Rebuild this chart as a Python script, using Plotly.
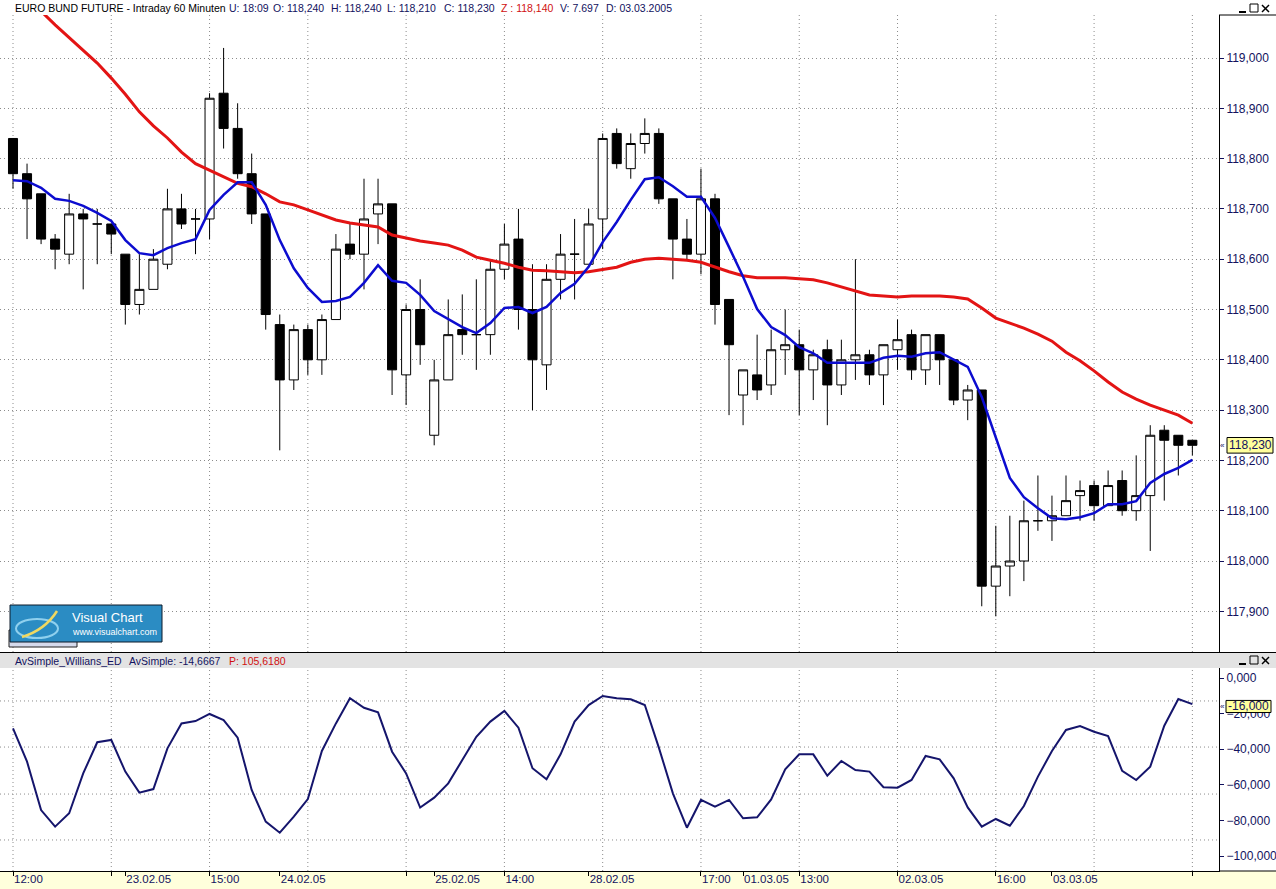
import plotly.graph_objects as go

# ---------------- data ----------------
bar_index = list(range(85))

open_ = [118.84, 118.77, 118.73, 118.64, 118.61, 118.69, 118.67, 118.67, 118.61, 118.51,
         118.54, 118.59, 118.70, 118.68, 118.68, 118.93, 118.86, 118.77, 118.69, 118.47,
         118.36, 118.46, 118.40, 118.48, 118.63, 118.61, 118.69, 118.71, 118.37, 118.50,
         118.25, 118.36, 118.46, 118.45, 118.45, 118.58, 118.64, 118.50, 118.39, 118.56,
         118.61, 118.59, 118.68, 118.85, 118.78, 118.83, 118.85, 118.72, 118.64, 118.61,
         118.72, 118.52, 118.33, 118.37, 118.35, 118.42, 118.43, 118.38, 118.42, 118.35,
         118.40, 118.41, 118.37, 118.42, 118.45, 118.38, 118.45, 118.40, 118.32, 118.34,
         117.95, 117.99, 118.00, 118.08, 118.08, 118.09, 118.13, 118.15, 118.11, 118.16,
         118.10, 118.13, 118.26, 118.25, 118.24]
high = [118.84, 118.79, 118.73, 118.65, 118.73, 118.70, 118.70, 118.67, 118.61, 118.61,
        118.62, 118.74, 118.73, 118.70, 118.93, 119.02, 118.91, 118.81, 118.69, 118.49,
        118.47, 118.47, 118.49, 118.65, 118.67, 118.76, 118.76, 118.71, 118.51, 118.56,
        118.40, 118.52, 118.53, 118.56, 118.60, 118.67, 118.70, 118.59, 118.59, 118.65,
        118.68, 118.70, 118.85, 118.86, 118.85, 118.88, 118.86, 118.72, 118.68, 118.78,
        118.73, 118.52, 118.38, 118.45, 118.46, 118.50, 118.46, 118.42, 118.44, 118.44,
        118.60, 118.42, 118.43, 118.48, 118.46, 118.45, 118.45, 118.40, 118.35, 118.34,
        118.07, 118.09, 118.12, 118.17, 118.13, 118.17, 118.16, 118.16, 118.18, 118.18,
        118.21, 118.27, 118.27, 118.25, 118.24]
low = [118.74, 118.64, 118.63, 118.58, 118.59, 118.54, 118.59, 118.61, 118.47, 118.49,
       118.54, 118.58, 118.66, 118.61, 118.64, 118.82, 118.76, 118.67, 118.46, 118.22,
       118.34, 118.37, 118.37, 118.48, 118.60, 118.54, 118.63, 118.33, 118.31, 118.39,
       118.23, 118.36, 118.41, 118.38, 118.41, 118.56, 118.46, 118.30, 118.34, 118.52,
       118.52, 118.59, 118.62, 118.78, 118.76, 118.81, 118.71, 118.56, 118.60, 118.57,
       118.47, 118.29, 118.27, 118.32, 118.33, 118.37, 118.29, 118.32, 118.27, 118.33,
       118.36, 118.35, 118.31, 118.38, 118.36, 118.35, 118.35, 118.31, 118.28, 117.91,
       117.89, 117.93, 117.96, 118.06, 118.04, 118.09, 118.08, 118.08, 118.11, 118.09,
       118.08, 118.02, 118.12, 118.17, 118.21]
close = [118.77, 118.72, 118.64, 118.62, 118.69, 118.68, 118.67, 118.65, 118.51, 118.54,
         118.60, 118.70, 118.67, 118.68, 118.92, 118.86, 118.77, 118.69, 118.49, 118.36,
         118.46, 118.40, 118.48, 118.62, 118.61, 118.68, 118.71, 118.38, 118.50, 118.43,
         118.36, 118.45, 118.45, 118.45, 118.58, 118.63, 118.50, 118.40, 118.56, 118.61,
         118.61, 118.67, 118.84, 118.79, 118.83, 118.85, 118.72, 118.64, 118.61, 118.72,
         118.51, 118.43, 118.38, 118.34, 118.42, 118.43, 118.38, 118.41, 118.35, 118.40,
         118.41, 118.37, 118.43, 118.44, 118.38, 118.45, 118.40, 118.32, 118.34, 117.95,
         117.99, 118.00, 118.08, 118.08, 118.09, 118.12, 118.14, 118.11, 118.15, 118.10,
         118.13, 118.25, 118.24, 118.23, 118.23]

ma_short = [118.757, 118.755, 118.742, 118.720, 118.716, 118.706, 118.692, 118.676, 118.638, 118.612,
            118.608, 118.622, 118.632, 118.640, 118.698, 118.728, 118.753, 118.753, 118.708, 118.638,
            118.582, 118.543, 118.515, 118.517, 118.525, 118.553, 118.588, 118.557, 118.553, 118.529,
            118.497, 118.481, 118.465, 118.453, 118.473, 118.503, 118.505, 118.493, 118.505, 118.533,
            118.551, 118.585, 118.634, 118.674, 118.718, 118.759, 118.763, 118.745, 118.724, 118.724,
            118.682, 118.624, 118.565, 118.501, 118.465, 118.449, 118.425, 118.413, 118.394, 118.394,
            118.394, 118.394, 118.404, 118.408, 118.406, 118.413, 118.415, 118.400, 118.386, 118.326,
            118.247, 118.165, 118.127, 118.105, 118.085, 118.083, 118.087, 118.095, 118.113, 118.113,
            118.119, 118.155, 118.173, 118.185, 118.201]

ma_long = [119.145, 119.120, 119.093, 119.066, 119.040, 119.014, 118.990, 118.960, 118.928, 118.893,
           118.865, 118.841, 118.813, 118.790, 118.777, 118.763, 118.751, 118.744, 118.730, 118.714,
           118.708, 118.698, 118.688, 118.678, 118.672, 118.668, 118.664, 118.648, 118.642, 118.636,
           118.632, 118.628, 118.618, 118.604, 118.598, 118.592, 118.584, 118.578, 118.577, 118.575,
           118.573, 118.575, 118.579, 118.584, 118.594, 118.600, 118.602, 118.600, 118.598, 118.594,
           118.584, 118.575, 118.567, 118.563, 118.563, 118.563, 118.561, 118.559, 118.553, 118.545,
           118.537, 118.529, 118.527, 118.525, 118.527, 118.527, 118.527, 118.525, 118.521, 118.503,
           118.483, 118.473, 118.463, 118.451, 118.437, 118.415, 118.398, 118.378, 118.356, 118.336,
           118.322, 118.310, 118.300, 118.290, 118.274]

williams_avg = [-28.3, -47.0, -74.2, -83.5, -76.0, -53.6, -36.1, -34.8, -52.6, -64.4,
                -62.4, -39.5, -25.5, -24.2, -20.2, -23.6, -33.5, -62.9, -80.7, -86.9,
                -77.9, -68.0, -41.0, -25.5, -11.4, -16.7, -19.3, -41.4, -53.6, -72.8,
                -67.2, -59.2, -46.1, -33.0, -24.5, -18.5, -27.9, -50.7, -56.9, -42.9,
                -24.5, -15.2, -10.1, -11.4, -12.0, -15.2, -39.1, -64.8, -84.1, -68.5,
                -72.3, -68.5, -78.8, -78.3, -68.2, -51.3, -42.9, -42.9, -54.9, -46.6,
                -51.7, -52.6, -61.4, -61.6, -57.3, -43.8, -45.7, -56.4, -72.7, -83.5,
                -79.2, -83.0, -71.9, -55.4, -41.0, -29.2, -27.0, -30.2, -32.6, -52.2,
                -57.3, -49.8, -26.8, -11.8, -14.67]

tick_index = [0, 7, 8, 14, 19, 28, 30, 35, 41, 49, 52, 56, 63, 70, 74, 84]
tick_text = ["12:00", "", "23.02.05", "15:00", "24.02.05", "", "25.02.05", "14:00",
             "28.02.05", "17:00", "01.03.05", "13:00", "02.03.05", "16:00", "03.03.05", ""]
osc_ticks = [0, -20, -40, -60, -80, -100]
osc_grid = [-12.9, -38.8, -65.2, -91.0]
last_price = 118.23
last_osc = -16.0

# ---------------- geometry helpers ----------------
W, H = 1276, 889
PL, PR, PT, PB = 0, 1219, 15, 871


def px(x):
    return (x - PL) / (PR - PL)


def py(y):
    return (PB - y) / (PB - PT)


top_dom = [py(652), 1.0]
bot_dom = [0.0, py(668)]
x_range = [-13 / 14.04, (1219 - 13) / 14.04]
price_range = [119 - (652 - 58) / 503, 119 + (58 - 15) / 503]
osc_range = [-(871 - 678) / 1.78, (678 - 668) / 1.78]

NAVY = "#12125E"
FONT = "Liberation Sans"
GRID = "#8C8C8C"
DOT = "1px,3px"

fig = go.Figure()
fig.add_trace(go.Candlestick(
    x=bar_index, open=open_, high=high, low=low, close=close,
    xaxis="x2", yaxis="y",
    increasing=dict(line=dict(color="black", width=1), fillcolor="white"),
    decreasing=dict(line=dict(color="black", width=1), fillcolor="black"),
    whiskerwidth=0, showlegend=False))
fig.add_trace(go.Scatter(x=bar_index, y=ma_long, xaxis="x2", yaxis="y", mode="lines",
                         line=dict(color="#E31414", width=3), showlegend=False))
fig.add_trace(go.Scatter(x=bar_index, y=ma_short, xaxis="x2", yaxis="y", mode="lines",
                         line=dict(color="#0C0CCF", width=2.5), showlegend=False))
fig.add_trace(go.Scatter(x=bar_index, y=williams_avg, xaxis="x", yaxis="y2", mode="lines",
                         line=dict(color="#15156C", width=2), showlegend=False))

shapes = []
grid_style = dict(color=GRID, width=1, dash=DOT)
# vertical gridlines every 7 bars in both panels
for k in range(0, 85, 7):
    for dom in (top_dom, bot_dom):
        shapes.append(dict(type="line", xref="x", yref="paper", x0=k, x1=k,
                           y0=dom[0], y1=dom[1], line=grid_style, layer="below"))
# lower panel horizontal gridlines
for v in osc_grid:
    shapes.append(dict(type="line", xref="paper", yref="y2", x0=0, x1=1, y0=v, y1=v,
                       line=grid_style, layer="below"))
# header band between panels
shapes.append(dict(type="rect", xref="paper", yref="paper", x0=px(0), x1=px(W),
                   y0=py(668), y1=py(653), fillcolor="#E3E3E3", line=dict(width=0)))
shapes.append(dict(type="line", xref="paper", yref="paper", x0=px(0), x1=px(W),
                   y0=py(652.5), y1=py(652.5), line=dict(color="black", width=1)))
# bottom yellow band
shapes.append(dict(type="rect", xref="paper", yref="paper", x0=px(0), x1=px(W),
                   y0=py(889), y1=py(871), fillcolor="#FFFFDC", line=dict(width=0), layer="below"))
shapes.append(dict(type="line", xref="paper", yref="paper", x0=px(1219), x1=px(W),
                   y0=py(871), y1=py(871), line=dict(color="black", width=1)))
# top border of price axis box
shapes.append(dict(type="line", xref="paper", yref="paper", x0=px(1219), x1=px(W),
                   y0=py(15), y1=py(15), line=dict(color="black", width=1)))
# window buttons (top and lower header)
for yc in (8, 660):
    shapes.append(dict(type="line", xref="paper", yref="paper", x0=px(1239), x1=px(1246),
                       y0=py(yc + 4), y1=py(yc + 4), line=dict(color="black", width=2)))
    shapes.append(dict(type="rect", xref="paper", yref="paper", x0=px(1250), x1=px(1258),
                       y0=py(yc + 4), y1=py(yc - 4), line=dict(color="black", width=1)))
    shapes.append(dict(type="line", xref="paper", yref="paper", x0=px(1262), x1=px(1269),
                       y0=py(yc + 4), y1=py(yc - 3), line=dict(color="black", width=1.5)))
    shapes.append(dict(type="line", xref="paper", yref="paper", x0=px(1262), x1=px(1269),
                       y0=py(yc - 3), y1=py(yc + 4), line=dict(color="black", width=1.5)))
# last value boxes
shapes.append(dict(type="rect", xref="paper", yref="y", x0=px(1227), x1=px(1273),
                   y0=last_price - 0.0155, y1=last_price + 0.0155,
                   fillcolor="#FFFF9C", line=dict(color="black", width=1)))
shapes.append(dict(type="rect", xref="paper", yref="y2", x0=px(1226), x1=px(1271),
                   y0=last_osc - 3.4, y1=last_osc + 3.4,
                   fillcolor="#FFFF9C", line=dict(color="black", width=1)))
# logo
shapes.append(dict(type="rect", xref="paper", yref="paper", x0=px(9), x1=px(77),
                   y0=py(647), y1=py(630), fillcolor="#D5DAEC", line=dict(color="#222", width=1)))
shapes.append(dict(type="rect", xref="paper", yref="paper", x0=px(10), x1=px(162),
                   y0=py(642), y1=py(605), fillcolor="#2B8CC3", line=dict(color="#0D1B2A", width=1)))
shapes.append(dict(type="circle", xref="paper", yref="paper", x0=px(16), x1=px(58),
                   y0=py(638), y1=py(619), line=dict(color="#8FD0EE", width=2)))
shapes.append(dict(type="path", xref="paper", yref="paper",
                   path=f"M {px(22)},{py(637)} Q {px(45)},{py(630)} {px(57)},{py(611)}",
                   line=dict(color="#F0D860", width=2.5)))

annotations = []
title_parts = [
    (13, "EURO BUND FUTURE - Intraday 60 Minuten", "black"),
    (227, "U: 18:09", NAVY), (271, "O: 118,240", NAVY), (329, "H: 118,240", NAVY),
    (385, "L: 118,210", NAVY), (442, "C: 118,230", NAVY), (499, "Z : 118,140", "#D01010"),
    (558, "V: 7.697", NAVY), (604, "D: 03.03.2005", NAVY)]
for xpos, txt, col in title_parts:
    annotations.append(dict(xref="paper", yref="paper", x=px(xpos), y=py(7.5), text=txt,
                            showarrow=False, xanchor="left", yanchor="middle",
                            font=dict(family=FONT, size=10.5, color=col)))
for xpos, txt, col in [(13, "AvSimple_Willians_ED", NAVY), (127, "AvSimple: -14,6667", NAVY),
                       (227, "P: 105,6180", "#D01010")]:
    annotations.append(dict(xref="paper", yref="paper", x=px(xpos), y=py(660.5), text=txt,
                            showarrow=False, xanchor="left", yanchor="middle",
                            font=dict(family=FONT, size=10.5, color=col)))
annotations.append(dict(xref="paper", yref="y", x=px(1250), y=last_price, text="118,230",
                        showarrow=False, xanchor="center", yanchor="middle",
                        font=dict(family=FONT, size=12, color=NAVY)))
annotations.append(dict(xref="paper", yref="y", x=px(1223), y=last_price, text="«",
                        showarrow=False, xanchor="center", yanchor="middle",
                        font=dict(family=FONT, size=8, color=NAVY)))
annotations.append(dict(xref="paper", yref="y2", x=px(1248.5), y=last_osc, text="-16,000",
                        showarrow=False, xanchor="center", yanchor="middle",
                        font=dict(family=FONT, size=12, color=NAVY)))
annotations.append(dict(xref="paper", yref="y2", x=px(1222), y=last_osc, text="«",
                        showarrow=False, xanchor="center", yanchor="middle",
                        font=dict(family=FONT, size=8, color=NAVY)))
annotations.append(dict(xref="paper", yref="paper", x=px(70), y=py(617), text="Visual Chart",
                        showarrow=False, xanchor="left", yanchor="middle",
                        font=dict(family=FONT, size=13, color="white")))
annotations.append(dict(xref="paper", yref="paper", x=px(70), y=py(632), text="www.visualchart.com",
                        showarrow=False, xanchor="left", yanchor="middle",
                        font=dict(family=FONT, size=9, color="white")))

tickfont = dict(family=FONT, size=12, color=NAVY)
fig.update_layout(
    width=W, height=H,
    margin=dict(l=PL, r=W - PR, t=PT, b=H - PB, autoexpand=False),
    paper_bgcolor="white", plot_bgcolor="white",
    separators=",.",
    boxgap=0.08,
    showlegend=False,
    xaxis=dict(domain=[0, 1], anchor="y2", range=x_range, tickmode="array",
               tickvals=tick_index, ticktext=tick_text, ticks="outside", ticklen=4,
               tickcolor="black", showline=True, linecolor="black", linewidth=1,
               showgrid=False, zeroline=False, ticklabelposition="outside right",
               tickangle=0, ticklabelstandoff=-3,
               tickfont=dict(family=FONT, size=11.5, color=NAVY),
               rangeslider=dict(visible=False)),
    xaxis2=dict(domain=[0, 1], anchor="y", matches="x", range=x_range,
                showticklabels=False, ticks="", showgrid=False, zeroline=False,
                showline=False, rangeslider=dict(visible=False)),
    yaxis=dict(domain=top_dom, anchor="x2", side="right", range=price_range,
               tickmode="linear", tick0=117.9, dtick=0.1, tickformat=".3f",
               showgrid=True, gridcolor=GRID, griddash=DOT, gridwidth=1,
               ticks="outside", ticklen=4, tickcolor=NAVY, showline=True,
               linecolor="black", linewidth=1, zeroline=False, tickfont=tickfont),
    yaxis2=dict(domain=bot_dom, anchor="x", side="right", range=osc_range,
                tickmode="array", tickvals=osc_ticks, tickformat=".3f",
                showgrid=False, ticks="outside", ticklen=4, tickcolor=NAVY,
                showline=True, linecolor="black", linewidth=1, zeroline=False,
                tickfont=tickfont),
    shapes=shapes, annotations=annotations,
)

fig.write_html("out.html", config={"displayModeBar": False},
               post_script="document.body.style.margin='0';document.body.style.overflow='hidden';")
